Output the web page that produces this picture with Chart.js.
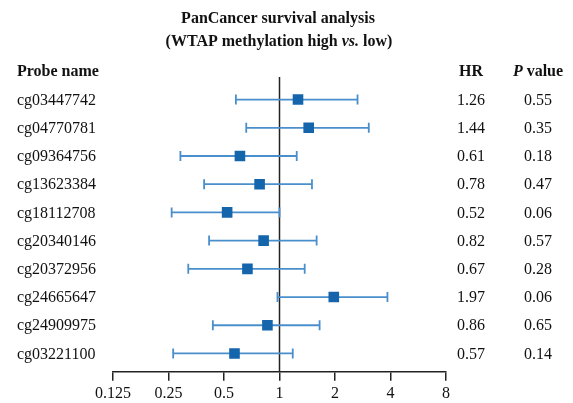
<!DOCTYPE html>
<html>
<head>
<meta charset="utf-8">
<script src="https://cdn.jsdelivr.net/npm/chart.js@4"></script>
<style>
  html, body { margin: 0; padding: 0; background: #fff; }
  #wrap { width: 573px; height: 403px; }
</style>
</head>
<body>
<div id="wrap"><canvas id="forest"></canvas></div>
<script>
const probes = ['cg03447742', 'cg04770781', 'cg09364756', 'cg13623384', 'cg18112708',
  'cg20340146', 'cg20372956', 'cg24665647', 'cg24909975', 'cg03221100'];
const hr = [1.26, 1.44, 0.61, 0.78, 0.52, 0.82, 0.67, 1.97, 0.86, 0.57];
const ciLow = [0.58, 0.66, 0.29, 0.39, 0.26, 0.415, 0.32, 0.975, 0.435, 0.265];
const ciHigh = [2.65, 3.05, 1.24, 1.5, 1.0, 1.59, 1.37, 3.85, 1.65, 1.18];
const hrLabels = ['1.26', '1.44', '0.61', '0.78', '0.52', '0.82', '0.67', '1.97', '0.86', '0.57'];
const pLabels = ['0.55', '0.35', '0.18', '0.47', '0.06', '0.57', '0.28', '0.06', '0.65', '0.14'];
const xTicks = [0.125, 0.25, 0.5, 1, 2, 4, 8];

const SERIF = '"Liberation Serif", "Times New Roman", serif';
const barColor = '#4a8fcc';
const boxColor = '#1565ad';

// one line dataset per probe for the CI whiskers
const ciSets = probes.map((p, i) => ({
  type: 'line',
  data: [{x: ciLow[i], y: i}, {x: ciHigh[i], y: i}],
  borderColor: barColor,
  borderWidth: 1.8,
  pointStyle: 'line',
  rotation: 90,
  pointRadius: 5,
  pointBorderColor: barColor,
  pointBorderWidth: 1.8,
  order: 2
}));

const refLine = {
  type: 'line',
  data: [{x: 1, y: -0.8}, {x: 1, y: 9.65}],
  borderColor: '#222',
  borderWidth: 1.5,
  pointRadius: 0,
  order: 3
};

const boxes = {
  type: 'scatter',
  data: hr.map((v, i) => ({x: v, y: i})),
  pointStyle: 'rect',
  pointRadius: 7.5,
  backgroundColor: boxColor,
  borderColor: boxColor,
  borderWidth: 0,
  order: 1
};

// mixed bold / italic pieces, centred on cx
function mixedText(ctx, parts, cx, y) {
  let w = 0;
  parts.forEach(p => { ctx.font = p.f; w += ctx.measureText(p.t).width; });
  let x = cx - w / 2;
  ctx.textAlign = 'left';
  parts.forEach(p => {
    ctx.font = p.f;
    ctx.fillText(p.t, x, y);
    x += ctx.measureText(p.t).width;
  });
}

// text columns, placed on the chart's own row scale
const tablePlugin = {
  id: 'tableText',
  afterDraw(chart) {
    const ctx = chart.ctx;
    const yS = chart.scales.y;
    const B = 'bold 16px ' + SERIF, BI = 'bold italic 16px ' + SERIF;
    ctx.save();
    ctx.fillStyle = '#111';
    ctx.textBaseline = 'middle';

    mixedText(ctx, [{t: 'PanCancer survival analysis', f: B}], 278, 19);
    mixedText(ctx, [{t: '(WTAP methylation high ', f: B}, {t: 'vs.', f: BI}, {t: ' low)', f: B}], 279, 42);

    // headers
    ctx.font = B;
    ctx.textAlign = 'left';
    ctx.fillText('Probe name', 17, 72);
    ctx.textAlign = 'center';
    ctx.fillText('HR', 471, 72);
    mixedText(ctx, [{t: 'P', f: BI}, {t: ' value', f: B}], 538, 72);

    // rows
    ctx.font = '16px ' + SERIF;
    probes.forEach((p, i) => {
      const y = yS.getPixelForValue(i) + 1;
      ctx.textAlign = 'left';
      ctx.fillText(p, 17, y);
      ctx.textAlign = 'center';
      ctx.fillText(hrLabels[i], 471, y);
      ctx.fillText(pLabels[i], 538, y);
    });
    ctx.restore();
  }
};

new Chart(document.getElementById('forest'), {
  type: 'scatter',
  data: { datasets: [refLine, ...ciSets, boxes] },
  options: {
    responsive: true,
    maintainAspectRatio: false,
    animation: false,
    layout: { padding: { left: 113, right: 127, top: 77, bottom: -3 } },
    plugins: {
      legend: { display: false },
      tooltip: { enabled: false },
      title: { display: false }
    },
    scales: {
      x: {
        type: 'logarithmic',
        min: 0.125,
        max: 8,
        afterBuildTicks: (axis) => { axis.ticks = xTicks.map(v => ({value: v})); },
        ticks: {
          color: '#111',
          font: { family: SERIF, size: 16 },
          padding: 3,
          maxRotation: 0,
          autoSkip: false,
          callback: (v) => String(v)
        },
        grid: {
          drawOnChartArea: false,
          drawTicks: true,
          tickLength: 9,
          color: '#222',
          lineWidth: 1.5
        },
        border: { display: true, color: '#222', width: 1.5 }
      },
      y: {
        type: 'linear',
        reverse: true,
        min: -0.8,
        max: 9.65,
        display: false
      }
    }
  },
  plugins: [tablePlugin]
});
</script>
</body>
</html>
